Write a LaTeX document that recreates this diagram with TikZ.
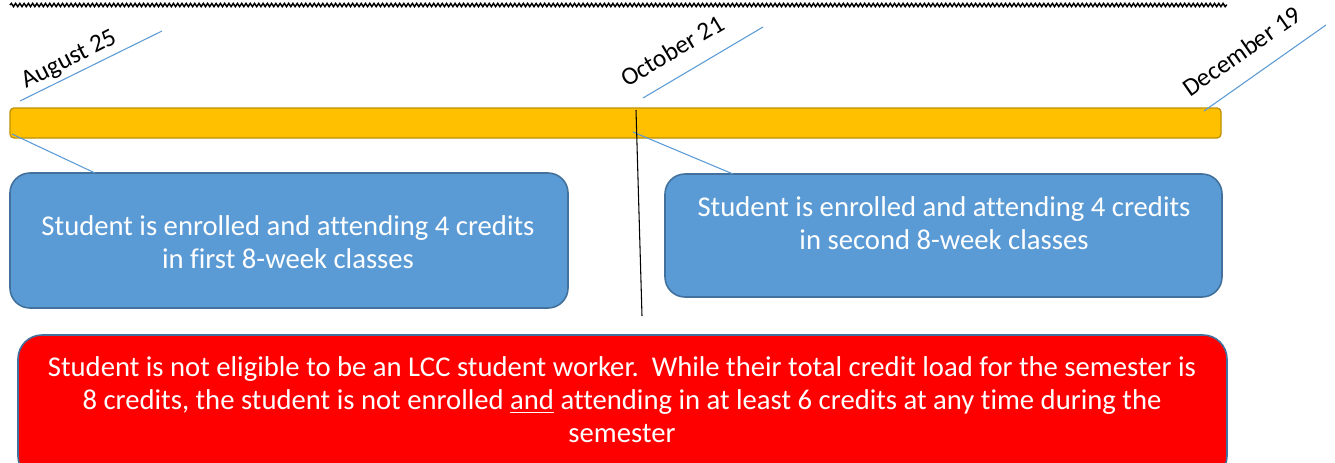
\documentclass[tikz,border=0pt]{standalone}
\usepackage{fontspec}
\setmainfont[Ligatures=NoCommon]{Carlito}
\usetikzlibrary{decorations.pathmorphing}
\definecolor{barfill}{HTML}{FFC000}
\definecolor{bardraw}{HTML}{BF9000}
\definecolor{boxfill}{HTML}{5B9BD5}
\definecolor{boxdraw}{HTML}{41719C}
\definecolor{redfill}{HTML}{FF0000}
\definecolor{calline}{HTML}{5B9BD5}
\tikzset{
  bluebox/.style={draw=boxdraw, line width=1.2pt, fill=boxfill, rounded corners=15pt},
  redbox/.style={draw=boxdraw, line width=1.2pt, fill=redfill, rounded corners=18pt},
  boxtext/.style={text=white, font=\fontsize{21.5}{24.75}\selectfont, align=center, inner sep=0pt},
  datetext/.style={font=\fontsize{19}{22}\selectfont, inner sep=0pt, anchor=base west},
  calloutline/.style={draw=calline, line width=0.8pt},
}
\begin{document}
\begin{tikzpicture}[x=0.75pt,y=-0.75pt]
\useasboundingbox (0,0) rectangle (1335,462);
\clip (0,0) rectangle (1335,462);
% wavy top line
\draw[line width=1.1pt, decorate, decoration={snake, amplitude=1.2pt, segment length=3.2pt}] (10,5) -- (1227,5);
% bar
\draw[draw=bardraw, line width=1pt, fill=barfill, rounded corners=3pt] (10,108) rectangle (1221,138);
\node[inner sep=0pt, minimum width=1211*0.75pt, minimum height=30*0.75pt] (bar) at (615.5,123) {};
% date labels
\coordinate (a1) at (20,101); \coordinate (a2) at (162,31);
\coordinate (o1) at (643,98); \coordinate (o2) at (763,27);
\coordinate (d1) at (1204,111); \coordinate (d2) at (1326,25);
\draw[calloutline] (a1) -- (a2);
\draw[calloutline] (o1) -- (o2);
\draw[calloutline] (d1) -- (d2);
\node[datetext, rotate=27] (aug) at (26,89) {August 25};
\node[datetext, rotate=31] (oct) at (627,88) {October 21};
\node[datetext, rotate=35] (dec) at (1190,98) {December 19};
% boxes
\draw[bluebox] (10,173) rectangle (568,308);
\node[inner sep=0pt, minimum width=558*0.75pt, minimum height=135*0.75pt] (b1) at (289,240.5) {};
\draw[bluebox] (665,174) rectangle (1222,297);
\node[inner sep=0pt, minimum width=557*0.75pt, minimum height=123*0.75pt] (b2) at (943.5,235.5) {};
\draw[redbox] (18,335) rectangle (1227,480);
\node[inner sep=0pt, minimum width=1209*0.75pt, minimum height=145*0.75pt] (r) at (622.5,407.5) {};
% texts
\node[boxtext] (t1) at (288,242) {Student is enrolled and attending 4 credits\\in first 8-week classes};
\node[boxtext] (t2) at (944,223) {Student is enrolled and attending 4 credits\\in second 8-week classes};
\node[boxtext] (t3) at (622,400) {Student is not eligible to be an LCC student worker.\ \ While their total credit load for the semester is\\8 credits, the student is not enrolled \underline{and} attending in at least 6 credits at any time during the\\semester};
% callout lines
\coordinate (c1) at (12,134); \coordinate (c2) at (95,173);
\coordinate (c3) at (633,132); \coordinate (c4) at (733,174);
\draw[calloutline] (c1) -- (c2);
\draw[calloutline] (c3) -- (c4);
% divider
\coordinate (v1) at (636,110); \coordinate (v2) at (642,316);
\draw[line width=0.8pt] (v1) -- (v2);
\end{tikzpicture}
\end{document}
